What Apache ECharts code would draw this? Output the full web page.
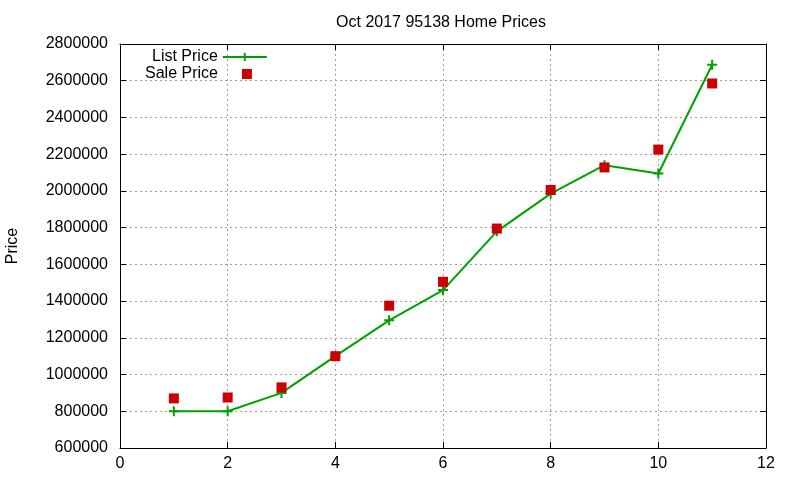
<!DOCTYPE html>
<html>
<head>
<meta charset="utf-8">
<script src="https://cdn.jsdelivr.net/npm/echarts@6/dist/echarts.min.js"></script>
<style>
  html, body { margin: 0; padding: 0; background: #fff; }
  #chartmain { width: 800px; height: 480px; }
</style>
</head>
<body>
<div id="chartmain"></div>
<script>
// chart data
var months = [1, 2, 3, 4, 5, 6, 7, 8, 9, 10, 11];
var listPrice = [800000, 800000, 900000, 1100000, 1295000, 1460000, 1780000, 1985000, 2140000, 2095000, 2687000];
var salePrice = [870000, 875000, 930000, 1100000, 1375000, 1505000, 1795000, 2005000, 2128000, 2225000, 2585000];
var xTicks = [0, 12, 2];          // min, max, step
var yTicks = [600000, 2800000, 200000];

var font = 'Liberation Sans, Arial, sans-serif';
var green = '#00a000';
var red = '#cc0000';
var plus = 'path://M0,5L10,5M5,0L5,10';

function pairs(xs, ys) {
    var out = [];
    for (var i = 0; i < xs.length; i++) out.push([xs[i], ys[i]]);
    return out;
}

function axisBase(pos, t, show) {
    return {
        type: 'value',
        position: pos,
        min: t[0], max: t[1], interval: t[2],
        axisLine: { show: true, onZero: false, lineStyle: { color: '#000', width: 1 } },
        axisTick: { show: true, inside: true, length: 6, lineStyle: { color: '#000' } },
        axisLabel: { show: show, color: '#000', fontFamily: font, fontSize: 16,
            formatter: function (v) { return String(v); } },
        splitLine: show ? { show: true, lineStyle: { color: '#a0a0a0', type: [2, 3], width: 1 } } : { show: false }
    };
}

var xMain = axisBase('bottom', xTicks, true);
xMain.axisLabel.margin = 8;
var yMain = axisBase('left', yTicks, true);
yMain.axisLabel.margin = 12;
yMain.name = 'Price';
yMain.nameLocation = 'middle';
yMain.nameGap = 99;
yMain.nameRotate = 90;
yMain.nameTextStyle = { color: '#000', fontFamily: font, fontSize: 16 };

var legendText = { color: '#000', fontFamily: font, fontSize: 16 };

var option = {
    animation: false,
    backgroundColor: '#fff',
    title: {
        text: 'Oct 2017 95138 Home Prices',
        left: 436, top: 10, textAlign: 'center',
        textStyle: { color: '#000', fontFamily: font, fontSize: 16, fontWeight: 'normal' }
    },
    grid: { left: 120, right: 34, top: 44, bottom: 32, containLabel: false, outerBoundsMode: 'none' },
    legend: [
        {
            orient: 'vertical',
            left: 152, top: 49, padding: 0,
            align: 'right',
            itemWidth: 44, itemHeight: 10,
            textStyle: legendText,
            data: ['List Price']
        },
        {
            orient: 'vertical',
            left: 145, top: 66, padding: 0,
            align: 'right',
            itemWidth: 10, itemHeight: 10,
            textStyle: { color: '#000', fontFamily: font, fontSize: 16, padding: [0, 19, 0, 0] },
            data: [{ name: 'Sale Price', icon: 'rect' }]
        }
    ],
    xAxis: [xMain, axisBase('top', xTicks, false)],
    yAxis: [yMain, axisBase('right', yTicks, false)],
    series: [
        {
            name: 'List Price',
            type: 'line',
            data: pairs(months, listPrice),
            symbol: plus,
            symbolSize: 10,
            showAllSymbol: true,
            lineStyle: { color: green, width: 2 },
            itemStyle: { color: green, borderColor: green, borderWidth: 2 },
            z: 3
        },
        {
            name: 'Sale Price',
            type: 'scatter',
            data: pairs(months, salePrice),
            symbol: 'rect',
            symbolSize: 10,
            itemStyle: { color: red, opacity: 1 },
            z: 4
        }
    ]
};

var myChart = echarts.init(document.getElementById('chartmain'));
myChart.setOption(option);
</script>
</body>
</html>
